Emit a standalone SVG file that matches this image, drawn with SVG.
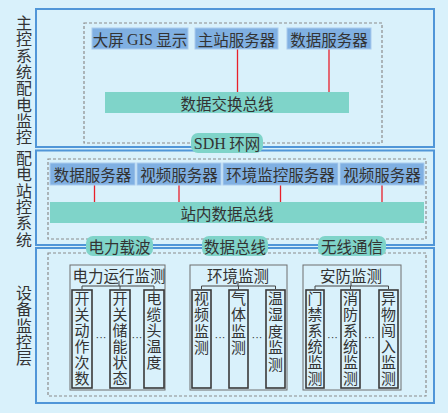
<svg xmlns="http://www.w3.org/2000/svg" width="448" height="413" viewBox="0 0 448 413">
<style>
text{font-family:"Noto Sans CJK SC","Liberation Serif",sans-serif;fill:#333;}
.t16{font-size:15.5px;}
.outer{fill:none;stroke:#5096d8;stroke-width:2;}
.dash{fill:none;stroke:#8c8c8c;stroke-width:1.2;stroke-dasharray:3,2;}
.srv{fill:#80b0e2;stroke:#a9cbee;stroke-width:1;}
.bus{fill:#7fd4c9;}
.tag{fill:#7fd4c9;}
.red{stroke:#e8202a;stroke-width:1.3;}
.grp{fill:none;stroke:#6e6e6e;stroke-width:1;}
.kid{fill:none;stroke:#3a3a3a;stroke-width:1.6;}
.br{fill:none;stroke:#444;stroke-width:1;}
.c{text-anchor:middle;dominant-baseline:central;}
.v{writing-mode:vertical-rl;text-orientation:upright;font-size:15px;letter-spacing:1px;}
.vs{writing-mode:vertical-rl;text-orientation:upright;font-size:16px;letter-spacing:0.3px;}
.dots{font-size:11px;font-family:"Liberation Sans",sans-serif;text-anchor:middle;dominant-baseline:central;}
</style>
<rect width="448" height="413" fill="#d9f1fb"/>

<g id="side-labels">
<text class="vs" x="24" y="15">主控系统配电监控</text>
<text class="vs" x="24" y="150">配电站控系统</text>
<text class="vs" x="24" y="285">设备监控层</text>
</g>

<g id="layer-frames">
<rect class="outer" x="36" y="9" width="398" height="138"/>
<rect class="dash" x="84" y="23" width="298" height="120"/>
<rect class="outer" x="36" y="150.5" width="398" height="94.5"/>
<rect class="dash" x="48" y="159" width="378" height="80"/>
<rect class="outer" x="36" y="248" width="398" height="155"/>
<rect class="dash" x="48" y="253" width="378" height="143"/>
</g>

<g id="connectors">
<line class="red" x1="237.5" y1="49" x2="237.5" y2="92"/>
<line class="red" x1="329" y1="49" x2="329" y2="92"/>
<line class="red" x1="94.5" y1="185" x2="94.5" y2="202"/>
<line class="red" x1="179" y1="185" x2="179" y2="202"/>
<line class="red" x1="280.5" y1="185" x2="280.5" y2="202"/>
<line class="red" x1="382" y1="185" x2="382" y2="202"/>
<path class="br" d="M119 281V286M82 289V286H154V289M120 286V289"/>
<path class="br" d="M238 281V286M201.5 289V286H275.5V289M238.5 286V289"/>
<path class="br" d="M351 281V286M315 289V286H388.5V289M350.5 286V289"/>
</g>

<g id="n-gis"><rect class="srv" x="92" y="28" width="96" height="21"/><text class="t16 c" x="140" y="38.5">大屏 <tspan font-family="Liberation Serif" font-size="16">GIS</tspan> 显示</text></g>
<g id="n-master"><rect class="srv" x="195" y="28" width="83" height="21"/><text class="t16 c" x="236.5" y="38.5">主站服务器</text></g>
<g id="n-data1"><rect class="srv" x="287" y="28" width="84" height="21"/><text class="t16 c" x="329" y="38.5">数据服务器</text></g>
<g id="n-bus1"><rect class="bus" x="105" y="92" width="244" height="21"/><text class="t16 c" x="227" y="102.5">数据交换总线</text></g>
<g id="n-sdh"><rect class="tag" x="191" y="133" width="72" height="20" rx="7"/><text class="t16 c" x="227" y="143"><tspan font-family="Liberation Serif" font-size="16">SDH</tspan> 环网</text></g>

<g id="n-data2"><rect class="srv" x="50" y="163" width="85" height="22"/><text class="t16 c" x="92.5" y="174">数据服务器</text></g>
<g id="n-video1"><rect class="srv" x="137" y="163" width="84" height="22"/><text class="t16 c" x="179" y="174">视频服务器</text></g>
<g id="n-env"><rect class="srv" x="223" y="163" width="115" height="22"/><text class="t16 c" x="280.5" y="174">环境监控服务器</text></g>
<g id="n-video2"><rect class="srv" x="340" y="163" width="84" height="22"/><text class="t16 c" x="382" y="174">视频服务器</text></g>
<g id="n-bus2"><rect class="bus" x="50" y="202" width="374" height="21"/><text class="t16 c" x="227" y="212.5">站内数据总线</text></g>

<g id="n-plc"><rect class="tag" x="86" y="236" width="67" height="20" rx="7"/><text class="t16 c" x="119.5" y="246">电力载波</text></g>
<g id="n-databus"><rect class="tag" x="202" y="236" width="66" height="20" rx="7"/><text class="t16 c" x="235" y="246">数据总线</text></g>
<g id="n-wireless"><rect class="tag" x="318" y="236" width="68" height="20" rx="7"/><text class="t16 c" x="352" y="246">无线通信</text></g>

<g id="g-power">
<rect class="grp" x="70" y="265" width="95" height="125"/>
<text class="t16 c" x="119" y="275">电力运行监测</text>
<rect class="kid" x="72" y="290" width="20" height="98"/>
<text class="v" x="82" y="290.5">开关动作次数</text>
<rect class="kid" x="110" y="290" width="20" height="98"/>
<text class="v" x="120" y="290.5">开关储能状态</text>
<rect class="kid" x="144" y="290" width="20" height="98"/>
<text class="v" x="154" y="290.5">电缆头温度</text>
<text class="dots" x="101" y="337">···</text>
<text class="dots" x="137" y="337">···</text>
</g>

<g id="g-env">
<rect class="grp" x="190" y="265" width="97" height="125"/>
<text class="t16 c" x="238" y="275">环境监测</text>
<rect class="kid" x="192" y="290" width="19" height="98"/>
<text class="v" x="201.5" y="290.5" style="letter-spacing:1.5px">视频监测</text>
<rect class="kid" x="229" y="290" width="19" height="98"/>
<text class="v" x="238.5" y="290.5" style="letter-spacing:1.5px">气体监测</text>
<rect class="kid" x="266" y="290" width="19" height="98"/>
<text class="v" x="275.5" y="290.5" style="letter-spacing:1.5px">温湿度监测</text>
<text class="dots" x="220" y="337">···</text>
<text class="dots" x="257" y="337">···</text>
</g>

<g id="g-security">
<rect class="grp" x="303" y="265" width="98" height="125"/>
<text class="t16 c" x="351" y="275">安防监测</text>
<rect class="kid" x="306" y="290" width="18" height="98"/>
<text class="v" x="315" y="290.5">门禁系统监测</text>
<rect class="kid" x="341" y="290" width="19" height="98"/>
<text class="v" x="350.5" y="290.5">消防系统监测</text>
<rect class="kid" x="379" y="290" width="19" height="98"/>
<text class="v" x="388.5" y="290.5">异物闯入监测</text>
<text class="dots" x="332.5" y="337">···</text>
<text class="dots" x="369.5" y="337">···</text>
</g>
</svg>
